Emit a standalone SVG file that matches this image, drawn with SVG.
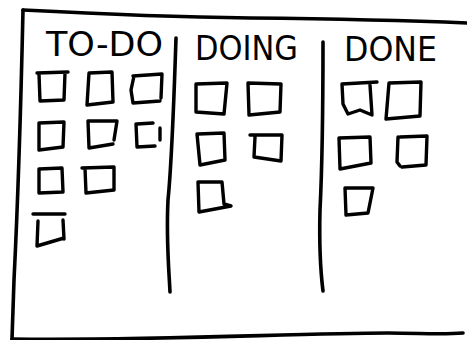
<svg xmlns="http://www.w3.org/2000/svg" width="467" height="340" viewBox="0 0 467 340">
<style>
  .ink{fill:none;stroke:#000;stroke-width:3.4;stroke-linecap:round;stroke-linejoin:round}
  .frame{fill:none;stroke:#000;stroke-width:3.6;stroke-linecap:round;stroke-linejoin:round}
  .lbl{font-family:"DejaVu Sans","Liberation Sans",sans-serif;font-size:33px;fill:#000}
</style>
<rect width="467" height="340" fill="#fff"/>
<g id="board">
  <path class="frame" d="M23,10 C100,14 170,17 250,18 C350,19 420,21 467,23"/>
  <path class="frame" d="M23,10 C21,100 18,200 14,280 L12,339"/>
  <path class="frame" d="M12,339 C150,341 300,333 388,333 C420,333 440,335 463,333"/>
</g>
<g id="connectors">
  <path class="frame" d="M176,38 C174,100 172,160 168,200 C166,240 169,270 170,292"/>
  <path class="frame" d="M323,42 C323,120 322,170 320,210 C319,250 321,275 323,291"/>
</g>
<g id="col-todo">
  <text class="lbl" x="46" y="56" textLength="117" lengthAdjust="spacingAndGlyphs">TO-DO</text>
  <g id="todo-1"><path class="ink" d="M37,73 L68,72 M65,73 L64,100 L40,101 L39,74"/></g>
  <g id="todo-2"><path class="ink" d="M89,73 L112,72 L113,102 L87,105 Z"/></g>
  <g id="todo-3"><path class="ink" d="M133,76 L162,74 L161,98 M160,101 L133,103 L131,90 L134,76"/></g>
  <g id="todo-4"><path class="ink" d="M39,123 L64,122 L63,147 L39,150 Z"/></g>
  <g id="todo-5"><path class="ink" d="M88,121 L117,121 L114,140 M113,144 L89,148 L88,121"/></g>
  <g id="todo-6"><path class="ink" d="M137,124 L153,123 M160,128 L160,140 M155,146 L137,147 L136,124"/></g>
  <g id="todo-7"><path class="ink" d="M39,169 L62,168 L63,192 L39,193 Z"/></g>
  <g id="todo-8"><path class="ink" d="M82,168 L114,167 L114,190 L86,193 L85,168"/></g>
  <g id="todo-9"><path class="ink" d="M33,214 L65,214 M38,221 L37,246 L64,238 M63,220 L64,239"/></g>
</g>
<g id="col-doing">
  <text class="lbl" x="195" y="60" textLength="103" lengthAdjust="spacingAndGlyphs">DOING</text>
  <g id="doing-1"><path class="ink" d="M196,84 L227,83 L224,114 L196,112 Z"/></g>
  <g id="doing-2"><path class="ink" d="M248,83 L281,84 L280,112 L249,115 Z"/></g>
  <g id="doing-3"><path class="ink" d="M198,134 L224,133 L225,160 L200,165 L197,134"/></g>
  <g id="doing-4"><path class="ink" d="M250,135 L282,135 L281,161 L254,157 L255,137"/></g>
  <g id="doing-5"><path class="ink" d="M198,182 L222,182 L224,204 L231,206 L199,212 Z"/></g>
</g>
<g id="col-done">
  <text class="lbl" x="344" y="61" textLength="93" lengthAdjust="spacingAndGlyphs">DONE</text>
  <g id="done-1"><path class="ink" d="M342,84 L377,82 M370,85 L372,115 L360,110 L348,114 L343,104 L342,84"/></g>
  <g id="done-2"><path class="ink" d="M389,83 L421,82 L420,116 L386,119 Z"/></g>
  <g id="done-3"><path class="ink" d="M339,138 L370,137 L371,163 L340,169 Z"/></g>
  <g id="done-4"><path class="ink" d="M400,137 L427,136 L426,165 L402,167 M398,137 L397,162 L400,166"/></g>
  <g id="done-5"><path class="ink" d="M345,188 L373,188 L368,213 L346,215 Z"/></g>
</g>
</svg>
